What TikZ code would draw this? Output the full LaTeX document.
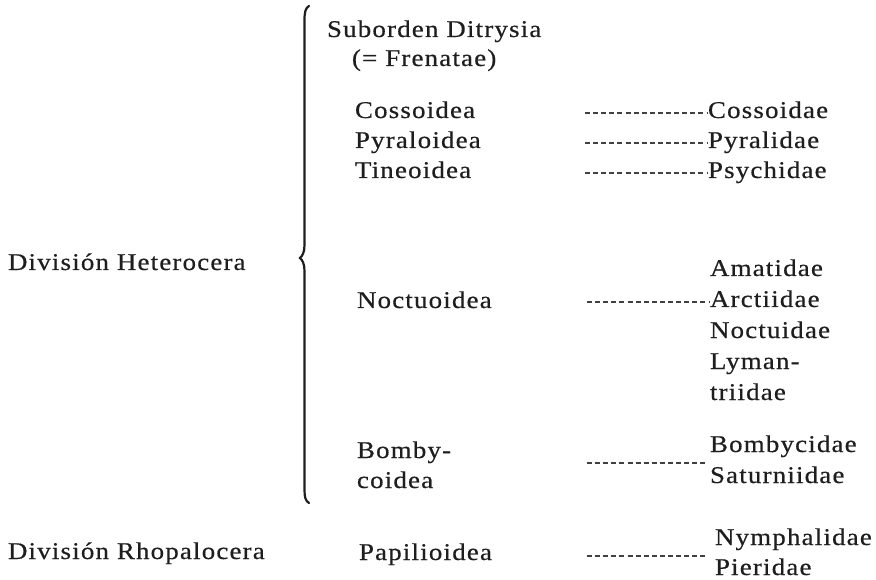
\documentclass[tikz,border=0pt]{standalone}
\usepackage{fontspec}
\setmainfont{Liberation Serif}[LetterSpace=5, FakeStretch=1.12, FakeBold=0.5]
\definecolor{ink}{HTML}{1E1E1E}
\begin{document}
\begin{tikzpicture}[x=1pt,y=-1pt,
  lab/.style={anchor=base west,inner sep=0pt,outer sep=0pt,text=ink,font=\fontsize{24}{30}\selectfont},
  dashln/.style={draw=ink!85,line width=1.3pt,dash pattern=on 5pt off 3.1pt},
  bracestyle/.style={draw=ink,line width=2.2pt,line cap=round}]
\useasboundingbox[fill=white] (0,0) rectangle (876,580);
% left column
\node[lab] (het) at (8,270) {División Heterocera};
\node[lab] (rho) at (8,559) {División Rhopalocera};
% brace
\draw[bracestyle] (309,6) .. controls (305.5,8) and (304.5,12) .. (304.5,20)
  -- (304.5,245) .. controls (304.5,252) and (302.5,256) .. (300,258)
  .. controls (302.5,260) and (304.5,264) .. (304.5,271)
  -- (304.5,490) .. controls (304.5,497) and (305.5,501) .. (309,503);
% superfamilies
\node[lab] (sub) at (327,37) {Suborden Ditrysia};
\node[lab] (fre) at (352,66) {(= Frenatae)};
\node[lab] (coss) at (355,118) {Cossoidea};
\node[lab] (pyra) at (355,148) {Pyraloidea};
\node[lab] (tine) at (355,178) {Tineoidea};
\node[lab] (noct) at (357,308) {Noctuoidea};
\node[lab] (bomb) at (357,458) {Bomby-};
\node[lab] (boco) at (357,488) {coidea};
\node[lab] (papi) at (359,560) {Papilioidea};
% families
\node[lab] (cosd) at (708,118) {Cossoidae};
\node[lab] (pyrd) at (708,148) {Pyralidae};
\node[lab] (psyd) at (708,178) {Psychidae};
\node[lab] (amat) at (710,276) {Amatidae};
\node[lab] (arct) at (710,307) {Arctiidae};
\node[lab] (nocd) at (710,338) {Noctuidae};
\node[lab] (lym) at (710,369) {Lyman-};
\node[lab] (lymb) at (710,400) {triidae};
\node[lab] (bomd) at (710,452) {Bombycidae};
\node[lab] (satd) at (710,483) {Saturniidae};
\node[lab] (nymd) at (715,545) {Nymphalidae};
\node[lab] (pied) at (715,575) {Pieridae};
% dashed leaders
\coordinate (d1) at (585,113);
\coordinate (d2) at (585,143);
\coordinate (d3) at (585,173);
\coordinate (d4) at (587,302);
\coordinate (d5) at (587,463);
\coordinate (d6) at (587,556);
\draw[dashln] (d1) -- (d1 -| cosd.west);
\draw[dashln] (d2) -- (d2 -| pyrd.west);
\draw[dashln] (d3) -- (d3 -| psyd.west);
\draw[dashln] (d4) -- (d4 -| arct.west);
\draw[dashln,shorten >=2pt] (d5) -- (d5 -| bomd.west);
\draw[dashln,shorten >=8pt] (d6) -- (d6 -| nymd.west);
\end{tikzpicture}
\end{document}
